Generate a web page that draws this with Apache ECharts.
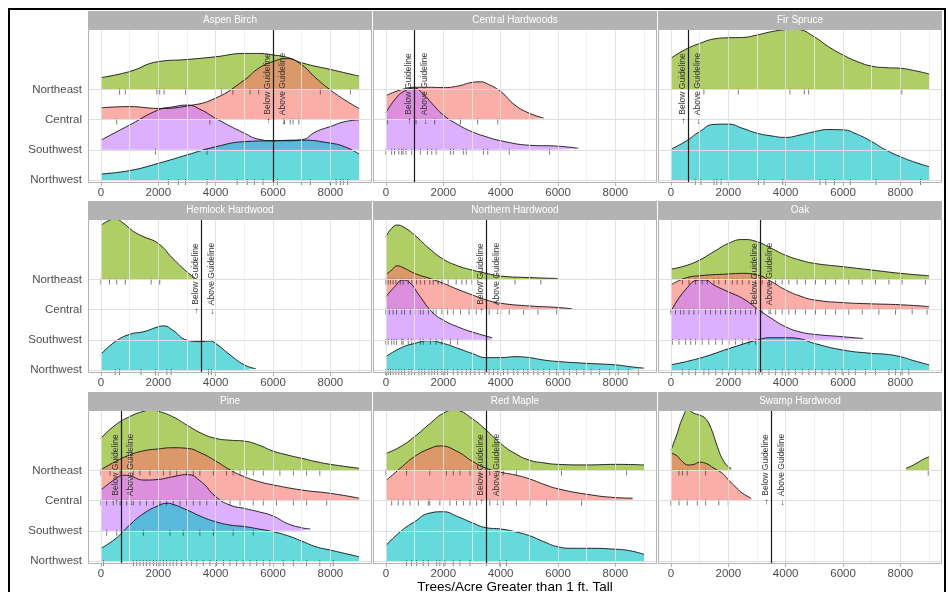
<!DOCTYPE html>
<html><head><meta charset="utf-8">
<script src="https://cdn.jsdelivr.net/npm/echarts@6/dist/echarts.min.js"></script>
<style>html,body{margin:0;padding:0;background:#fff}#c{width:948px;height:592px}</style>
</head><body><div id="c"></div>
<script>
// ---------------- DATA ----------------
const regions = ['Northwest', 'Southwest', 'Central', 'Northeast']; // ridge baselines 1..4
const drawOrder = ['Northeast', 'Central', 'Southwest', 'Northwest'];
const forestTypes = ['Aspen Birch', 'Central Hardwoods', 'Fir Spruce', 'Hemlock Hardwood', 'Northern Hardwood', 'Oak', 'Pine', 'Red Maple', 'Swamp Hardwood'];
const guidelines = [6000, 1000, 600, 3500, 3500, 3100, 700, 3500, 3500];
const xTicks = [0, 2000, 4000, 6000, 8000];
const xMinorTicks = [1000, 3000, 5000, 7000, 9000];
const yTicks = [1, 2, 3, 4];
const regionColors = {Northeast: '#7CAE00', Central: '#F8766D', Southwest: '#C77CFF', Northwest: '#00BFC4'};
const xTitle = 'Trees/Acre Greater than 1 ft. Tall';
const belowLabel = '\u2192 Below Guideline';
const aboveLabel = '\u2190 Above Guideline';

// ridge outlines: [trees/acre, scaled density height in row units]
const aspenNE = [[0,0.39],[1000,0.59],[2000,0.92],[3000,0.99],[4000,1.08],[5000,1.19],[5500,1.19],[6000,1.14],[6500,1.06],[7000,0.88],[8000,0.66],[9000,0.44]];
const aspenC  = [[0,0.39],[1000,0.43],[2000,0.37],[3000,0.45],[4000,0.71],[5000,1.31],[5500,1.70],[6000,1.92],[6500,2.02],[7000,1.81],[7500,1.37],[8000,0.98],[8500,0.65],[9000,0.37]];
const aspenSW = [[0,0.32],[1000,0.82],[2000,1.32],[2500,1.42],[3000,1.48],[3500,1.32],[4000,1.04],[5000,0.55],[5500,0.35],[6000,0.30],[6500,0.30],[7000,0.33],[7500,0.60],[8000,0.77],[8500,0.93],[9000,0.99]];
const aspenNW = [[0,0.20],[1000,0.31],[2000,0.55],[3000,0.83],[4000,1.10],[5000,1.27],[6000,1.30],[7000,1.32],[8000,1.22],[8500,1.10],[9000,0.86]];

const chC  = [[0,0.79],[500,0.98],[1000,1.07],[1500,1.07],[2000,1.06],[2500,1.11],[3000,1.23],[3300,1.25],[3500,1.20],[4000,0.93],[4500,0.48],[5000,0.21],[5500,0.05]];
const chSW = [[0,1.23],[300,1.65],[600,1.92],[1000,2.04],[1300,1.85],[1600,1.54],[2000,1.15],[2500,0.84],[3000,0.60],[3500,0.43],[4000,0.30],[5000,0.15],[6000,0.12],[6700,0.05]];

const fsNE = [[0,1.03],[500,1.32],[1000,1.52],[1500,1.67],[2000,1.71],[2500,1.72],[3000,1.80],[3500,1.91],[4000,1.98],[4300,2.00],[4500,1.98],[5000,1.74],[5500,1.41],[6000,1.14],[6500,0.92],[7000,0.77],[7500,0.72],[8000,0.70],[8500,0.62],[9000,0.51]];
const fsNW = [[0,1.02],[500,1.27],[1000,1.60],[1500,1.84],[2000,1.85],[2500,1.71],[3000,1.55],[3500,1.46],[4000,1.41],[4500,1.49],[5000,1.60],[5500,1.67],[6000,1.66],[6500,1.51],[7000,1.27],[7500,0.99],[8000,0.77],[8500,0.59],[9000,0.44]];

const hhNE = [[0,1.78],[200,1.91],[500,2.00],[800,1.85],[1000,1.69],[1200,1.55],[1500,1.41],[2000,1.19],[2500,0.70],[3000,0.25],[3300,0.03]];
const hhNW = [[0,0.52],[500,0.94],[1000,1.18],[1500,1.27],[2000,1.43],[2200,1.46],[2500,1.32],[3000,0.99],[3500,0.94],[3800,0.96],[4000,0.88],[4500,0.50],[5000,0.17],[5400,0.04]];

const nhNE = [[0,1.41],[200,1.69],[400,1.80],[600,1.74],[1000,1.47],[1500,1.03],[2000,0.67],[2500,0.45],[3000,0.31],[3500,0.20],[4000,0.11],[5000,0.06],[6000,0.03]];
const nhC  = [[0,1.15],[200,1.31],[400,1.45],[600,1.39],[1000,1.20],[1500,1.04],[2000,0.87],[2500,0.67],[3000,0.49],[3500,0.32],[4000,0.21],[5000,0.12],[6000,0.07],[6500,0.02]];
const nhSW = [[0,1.42],[300,1.75],[600,1.98],[800,1.92],[1200,1.42],[1600,0.93],[2000,0.65],[2500,0.43],[3000,0.26],[3700,0.07]];
const nhNW = [[0,0.44],[500,0.72],[1000,0.88],[1500,0.97],[2000,0.88],[2500,0.72],[3000,0.55],[3500,0.41],[4000,0.41],[4500,0.44],[5000,0.41],[5500,0.33],[6000,0.28],[7000,0.22],[8000,0.17],[8500,0.11],[9000,0.06]];

const oakNE = [[0,0.34],[500,0.45],[1000,0.64],[1500,0.92],[2000,1.19],[2500,1.32],[3000,1.25],[3500,1.03],[4000,0.80],[4500,0.64],[5000,0.53],[6000,0.42],[7000,0.31],[8000,0.20],[9000,0.12]];
const oakC  = [[0,0.82],[500,1.04],[1000,1.12],[2000,1.18],[2500,1.20],[3000,1.15],[3500,0.93],[4000,0.65],[4500,0.45],[5000,0.32],[6000,0.23],[7000,0.19],[8000,0.16],[9000,0.10]];
const oakSW = [[0,0.93],[500,1.65],[1000,1.98],[1200,1.98],[1500,1.81],[2000,1.59],[2500,1.37],[3000,1.04],[3500,0.71],[4000,0.43],[4500,0.26],[5000,0.18],[6000,0.10],[6700,0.04]];
const oakNW = [[0,0.17],[1000,0.39],[2000,0.70],[3000,0.99],[3500,1.07],[4000,1.07],[4500,1.03],[5000,0.88],[6000,0.66],[7000,0.55],[7500,0.52],[8000,0.44],[8500,0.30],[9000,0.17]];

const pineNE = [[0,1.06],[500,1.50],[1000,1.78],[1500,1.96],[1800,2.00],[2000,1.96],[2500,1.78],[3000,1.50],[3500,1.23],[4000,1.06],[4500,1.00],[5000,0.97],[5500,0.84],[6000,0.64],[6500,0.51],[7000,0.40],[7500,0.29],[8000,0.20],[9000,0.07]];
const pineC  = [[0,1.02],[500,1.29],[1000,1.51],[1500,1.65],[2000,1.71],[2500,1.75],[3000,1.73],[3500,1.57],[4000,1.31],[4500,1.02],[5000,0.79],[5500,0.63],[6000,0.52],[7000,0.35],[8000,0.24],[9000,0.08]];
const pineSW = [[0,1.35],[500,1.71],[800,1.84],[1000,1.82],[1500,1.68],[2000,1.70],[2500,1.79],[3000,1.86],[3500,1.62],[4000,1.13],[4500,0.85],[5000,0.74],[5500,0.63],[6000,0.49],[6500,0.24],[7000,0.10],[7300,0.06]];
const pineNW = [[0,0.42],[500,0.73],[1000,1.19],[1500,1.58],[2000,1.83],[2300,1.91],[2500,1.88],[3000,1.69],[3500,1.47],[4000,1.30],[4500,1.19],[5000,1.14],[5500,1.06],[6000,0.97],[6500,0.84],[7000,0.66],[7500,0.47],[8000,0.36],[8500,0.25],[9000,0.14]];

const rmNE = [[0,0.56],[500,0.78],[1000,1.12],[1500,1.52],[2000,1.89],[2400,2.00],[2500,1.99],[3000,1.72],[3500,1.33],[4000,0.89],[4500,0.56],[5000,0.34],[5500,0.25],[6000,0.20],[7000,0.18],[8000,0.20],[9000,0.18]];
const rmC  = [[0,0.66],[500,1.07],[1000,1.46],[1500,1.71],[1900,1.81],[2500,1.62],[3000,1.31],[3500,1.07],[4000,0.94],[4500,0.85],[5000,0.72],[5500,0.54],[6000,0.39],[7000,0.21],[8000,0.10],[8600,0.08]];
const rmNW = [[0,0.51],[500,0.97],[1000,1.30],[1500,1.58],[2000,1.63],[2500,1.47],[3000,1.27],[3500,1.10],[4000,1.06],[4500,0.97],[5000,0.84],[5500,0.64],[6000,0.47],[6500,0.42],[7000,0.42],[8000,0.39],[8500,0.34],[9000,0.22]];

const shNE = [[0,0.67],[200,1.17],[400,1.72],[600,2.00],[800,1.89],[1000,1.83],[1200,1.72],[1400,1.39],[1600,0.84],[1800,0.37],[2000,0.12],[2100,0.07],[5000,null],[8200,0.07],[8500,0.20],[8800,0.37],[9000,0.45]];
const shC  = [[0,1.57],[200,1.49],[400,1.29],[600,1.18],[800,1.20],[1000,1.27],[1200,1.24],[1500,1.07],[1800,0.90],[2000,0.69],[2300,0.41],[2500,0.24],[2800,0.08]];

// rug (individual plot observations)
const aspenNErug = [650,850,1950,2050,2200,2950,4200,4600,5200,5500,7650,8700];
const aspenCrug  = [550,3800,6400,6600,6700,6900];
const aspenSWrug = [1900,3700];
const aspenNWrug = [2350,2700,2950,3700,4750,5100,5350,5650,6150,7000,7300,8000,8200,8350,8450,8600];
const chCrug  = [50,1050,1700,2600,3200,3900];
const chSWrug = [0,200,300,450,550,600,700,900,1200,1450,1600,1750,2250,2350,2700,2800,3400,3550,4300,5700];
const fsNErug = [1150,2350,4150,4650,4800,8050];
const fsNWrug = [850,1050,1500,1600,1750,3050,3250,3900,5200,5400,5700,6250,7150,8700];
const hhNErug = [0,300,550,850,1750,2050];
const hhNWrug = [500,650,1400,1900,2300,2450,3750,3850];
const nhNErug = [0,80,160,250,350,500,600,780,900,1070,1200,1350,1530,1650,1820,1950,2170,2450,2650,2800,3000,3200,4500,5400];
const nhCrug  = [0,120,250,370,550,650,850,1000,1200,1300,1480,1650,1750,1950,2150,2350,2600,2900,3150,3600,4000,4300,4800,5300,5950];
const nhSWrug = [0,80,200,280,370,550,600,780,900,1000,1200,1300,1550,1750,1950,2250,2500];
const nhNWrug = [0,80,160,250,350,450,550,650,800,900,1000,1150,1250,1350,1500,1600,1700,1800,1950,2050,2150,2350,2500,2650,2800,2950,3100,3250,3450,3600,3750,3900,4100,4250,4450,4600,4800,4950,5150,5300,5500,5700,5950,6200,6400,6650,6900,7150,7450,7800,8100,8450,8800];
const oakNErug = [400,630,860,1090,1270,1500,1670,1900,2140,2310,2490,2720,2950,3180,3420,3650,3880,4110,4400,4690,5040,5390,5740,6200,6670,7130,7600,8060,8870];
const oakCrug  = [0,160,340,450,630,800,980,1210,1380,1560,1730,1900,2080,2250,2430,2600,2780,2950,3180,3420,3650,3880,4110,4340,4690,5040,5390,5740,6200,6670,7250,7830,8410,8930];
const oakSWrug = [50,280,510,690,860,1090,1320,1560,1790,2020,2250,2490,2720,2950];
const oakNWrug = [400,630,860,1150,1320,1560,1790,2020,2250,2490,2720,2950,3070,3180,3420,3650,3880,4110,4340,4580,4810,5040,5270,5510,5740,5970,6200,6430,6780,7130,7600,7830,8060,8290];
const pineNErug = [0,320,670,1130,1360,1710,2000,2180,2410,2640,2990,3220,3450,3920,4380,4610,4850,5080,5310,5660,6240,6710,7170,7630];
const pineCrug  = [0,200,430,670,900,1130,1360,1590,1830,2060,2290,2520,2760,2990,3220,3450,3690,4030,4500,4850,5310,5660,6120,6710,7170,7870];
const pineSWrug = [200,550,1480,2410,2870,3450,3920,4610,5310];
const pineNWrug = [90,1130,1250,1360,1480,1590,1710,1830,1940,2060,2180,2290,2410,2520,2640,2810,2990,3160,3340,3570,3800,4030,4270,4500,4730,4960,5200,5430,5660,5890,6360,6710,7170,7630,8100];
const rmNErug = [0,720,1530,2110,2350,2580,2930,3280,3620,4090,4550,6120,8390];
const rmCrug  = [200,430,600,840,1130,1480,1530,1880,2230,2460,2700,2930,3160,3620,4090,4550,5020,5600,6820];
const rmNWrug = [720,890,1070,1300,1480,1770,1880,2060,2350,2580,2930,3510,3970,4200];
const shNErug = [280,400,570,1210,8970];
const shCrug  = [0,280,570,920,1210,1670,2000];

// lookup tables built from the arrays above
const ridgeTable = {
  'Aspen Birch': {Northeast: aspenNE, Central: aspenC, Southwest: aspenSW, Northwest: aspenNW},
  'Central Hardwoods': {Central: chC, Southwest: chSW},
  'Fir Spruce': {Northeast: fsNE, Northwest: fsNW},
  'Hemlock Hardwood': {Northeast: hhNE, Northwest: hhNW},
  'Northern Hardwood': {Northeast: nhNE, Central: nhC, Southwest: nhSW, Northwest: nhNW},
  'Oak': {Northeast: oakNE, Central: oakC, Southwest: oakSW, Northwest: oakNW},
  'Pine': {Northeast: pineNE, Central: pineC, Southwest: pineSW, Northwest: pineNW},
  'Red Maple': {Northeast: rmNE, Central: rmC, Northwest: rmNW},
  'Swamp Hardwood': {Northeast: shNE, Central: shC}
};
const rugTable = {
  'Aspen Birch': {Northeast: aspenNErug, Central: aspenCrug, Southwest: aspenSWrug, Northwest: aspenNWrug},
  'Central Hardwoods': {Central: chCrug, Southwest: chSWrug},
  'Fir Spruce': {Northeast: fsNErug, Northwest: fsNWrug},
  'Hemlock Hardwood': {Northeast: hhNErug, Northwest: hhNWrug},
  'Northern Hardwood': {Northeast: nhNErug, Central: nhCrug, Southwest: nhSWrug, Northwest: nhNWrug},
  'Oak': {Northeast: oakNErug, Central: oakCrug, Southwest: oakSWrug, Northwest: oakNWrug},
  'Pine': {Northeast: pineNErug, Central: pineCrug, Southwest: pineSWrug, Northwest: pineNWrug},
  'Red Maple': {Northeast: rmNErug, Central: rmCrug, Northwest: rmNWrug},
  'Swamp Hardwood': {Northeast: shNErug, Central: shCrug}
};

// ---------------- LAYOUT / STYLE ----------------
const FONT = '"Liberation Sans", Arial, Helvetica, sans-serif';
const colLeft = [88, 373, 658], panelTop = [29, 219, 410];
const PW = 284, PH = 154, SH = 18;
const chart = echarts.init(document.getElementById('c'), null, {renderer: 'canvas'});

const grids = [], xAxes = [], yAxes = [], series = [];
forestTypes.forEach((ft, i) => {
  const r = Math.floor(i / 3), c = i % 3;
  grids.push({left: colLeft[c], top: panelTop[r], width: PW, height: PH, containLabel: false, outerBoundsMode: 'none'});
  xAxes.push({
    gridIndex: i, type: 'value', min: -450, max: 9450, splitNumber: 5, minInterval: 2000, maxInterval: 2000,
    axisLine: {show: false}, splitLine: {show: false},
    axisTick: {show: true, length: 3, lineStyle: {color: '#B3B3B3', width: 1}, customValues: xTicks},
    axisLabel: {show: true, customValues: xTicks, color: '#4D4D4D', fontSize: 11.5, fontFamily: FONT, margin: 4,
      formatter: v => (xTicks.indexOf(v) >= 0 ? String(v) : '')}
  });
  yAxes.push({
    gridIndex: i, type: 'value', min: 0.9, max: 6.0,
    axisLine: {show: false}, splitLine: {show: false},
    axisTick: {show: c === 0, length: 4, lineStyle: {color: '#B3B3B3', width: 1}, customValues: yTicks},
    axisLabel: {show: c === 0, customValues: yTicks, color: '#4D4D4D', fontSize: 11.5, fontFamily: FONT, margin: 6,
      formatter: v => { const k = Math.round(v); return (Math.abs(v - k) < 1e-6 && k >= 1 && k <= 4) ? regions[k - 1] : ''; }}
  });

  // panel grid lines (faint, visible through the translucent ridges as in the reference)
  const gl = [];
  xTicks.forEach(v => gl.push({xAxis: v, lineStyle: {color: 'rgba(222,222,222,0.85)', width: 1, type: 'solid'}}));
  xMinorTicks.forEach(v => gl.push({xAxis: v, lineStyle: {color: 'rgba(236,236,236,0.8)', width: 1, type: 'solid'}}));
  yTicks.forEach(v => gl.push({yAxis: v, lineStyle: {color: '#DEDEDE', width: 1, type: 'solid'}}));
  series.push({type: 'line', xAxisIndex: i, yAxisIndex: i, data: [], symbol: 'none', silent: true, z: 1,
    markLine: {symbol: ['none', 'none'], silent: true, animation: false, label: {show: false}, data: gl}});

  // ridges
  const rt = ridgeTable[ft];
  drawOrder.forEach(reg => {
    if (!rt[reg]) return;
    const base = regions.indexOf(reg) + 1;
    series.push({
      type: 'line', xAxisIndex: i, yAxisIndex: i, z: 2, silent: true, clip: false,
      data: rt[reg].map(p => [p[0], p[1] == null ? null : base + p[1]]),
      smooth: 0.5, symbol: 'none', connectNulls: false,
      lineStyle: {color: '#111', width: 0.9},
      areaStyle: {color: regionColors[reg], opacity: 0.6, origin: base}
    });
  });

  // rug marks
  const rg = rugTable[ft], rugData = [];
  drawOrder.forEach(reg => {
    if (!rg[reg]) return;
    const base = regions.indexOf(reg) + 1;
    rg[reg].forEach(v => rugData.push([v, base]));
  });
  series.push({type: 'scatter', xAxisIndex: i, yAxisIndex: i, z: 3, silent: true, clip: false,
    data: rugData, symbol: 'rect', symbolSize: [1, 6], symbolOffset: [0, 2],
    itemStyle: {color: 'rgba(20,20,20,0.7)'}});

  // guideline
  series.push({type: 'line', xAxisIndex: i, yAxisIndex: i, data: [], symbol: 'none', silent: true, z: 4,
    markLine: {symbol: ['none', 'none'], silent: true, animation: false, label: {show: false}, z: 8,
      data: [{xAxis: guidelines[i], lineStyle: {color: '#1a1a1a', width: 1.2, type: 'solid'}}]}});
});

chart.setOption({
  animation: false,
  backgroundColor: '#ffffff',
  textStyle: {fontFamily: FONT},
  grid: grids, xAxis: xAxes, yAxis: yAxes, series: series
});

// strips, borders, guideline labels, frame, axis title
const gfx = [];
forestTypes.forEach((ft, i) => {
  const r = Math.floor(i / 3), c = i % 3;
  const L = colLeft[c], T = panelTop[r];
  gfx.push({type: 'rect', silent: true, z: 50, shape: {x: L, y: T - SH, width: PW, height: SH}, style: {fill: '#B3B3B3'}});
  gfx.push({type: 'text', silent: true, z: 51, x: L + PW / 2, y: T - SH / 2,
    style: {text: ft, fill: '#FFFFFF', font: '10px ' + FONT, textAlign: 'center', textVerticalAlign: 'middle'}});
  gfx.push({type: 'rect', silent: true, z: 50, shape: {x: L + 0.5, y: T + 0.5, width: PW - 1, height: PH - 1},
    style: {fill: 'none', stroke: '#B3B3B3', lineWidth: 1}});
  const p = chart.convertToPixel({gridIndex: i}, [guidelines[i], 4]);
  gfx.push({type: 'text', silent: true, z: 52, x: p[0] - 5.5, y: p[1], rotation: Math.PI / 2,
    style: {text: belowLabel, fill: '#333333', font: '8.5px ' + FONT, textAlign: 'center', textVerticalAlign: 'middle'}});
  gfx.push({type: 'text', silent: true, z: 52, x: p[0] + 10, y: p[1], rotation: Math.PI / 2,
    style: {text: aboveLabel, fill: '#333333', font: '8.5px ' + FONT, textAlign: 'center', textVerticalAlign: 'middle'}});
});
gfx.push({type: 'text', silent: true, z: 52, x: 515, y: 587,
  style: {text: xTitle, fill: '#000000', font: '13.5px ' + FONT, textAlign: 'center', textVerticalAlign: 'middle'}});
gfx.push({type: 'rect', silent: true, z: 60, shape: {x: 9, y: 9, width: 936, height: 600},
  style: {fill: 'none', stroke: '#000000', lineWidth: 2}});
chart.setOption({graphic: gfx});
</script>
</body></html>
